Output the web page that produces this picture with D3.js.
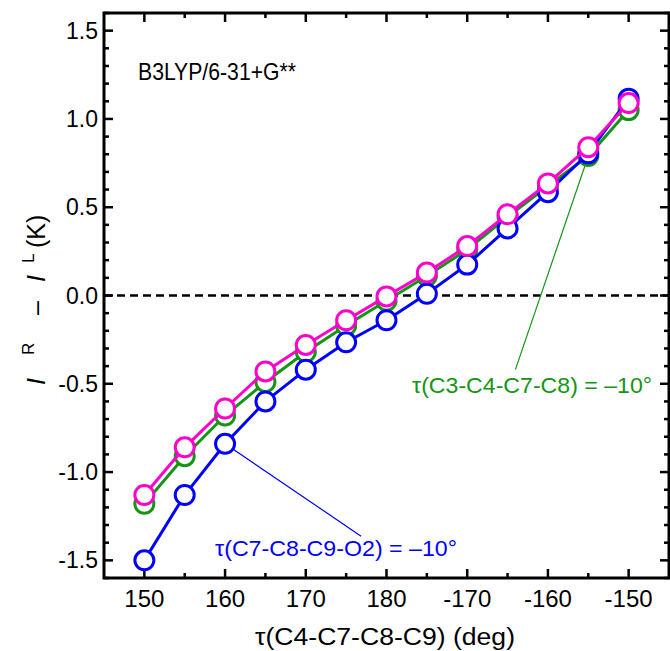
<!DOCTYPE html>
<html>
<head>
<meta charset="utf-8">
<script src="https://cdn.jsdelivr.net/npm/d3@7"></script>
<style>
  html, body { margin: 0; padding: 0; background: #fff; }
  svg { display: block; font-family: "Liberation Sans", Arial, Helvetica, sans-serif; }
</style>
</head>
<body>
<svg id="chart" width="670" height="651"></svg>
<script>
// Dihedral scan: τ(C4-C7-C8-C9) from 150° through 180° to -150° (unwrapped as 150..210)
const torsion = [150, 155, 160, 165, 170, 175, 180, 185, 190, 195, 200, 205, 210];

// I^R − I^L (K) for the three conformer scans
const seriesBlue    = [-1.50, -1.13, -0.84, -0.60, -0.42, -0.265, -0.14, 0.01, 0.175, 0.38, 0.585, 0.805, 1.115];
const seriesGreen   = [-1.18, -0.91, -0.68, -0.49, -0.32, -0.17, -0.03, 0.11, 0.26, 0.445, 0.62, 0.79, 1.05];
const seriesMagenta = [-1.13, -0.86, -0.64, -0.43, -0.28, -0.14, -0.005, 0.13, 0.28, 0.46, 0.635, 0.84, 1.09];

const xTickValues = [150, 160, 170, 180, 190, 200, 210];
const xTickLabels = ["150", "160", "170", "180", "-170", "-160", "-150"];
const yTickValues = [1.5, 1.0, 0.5, 0.0, -0.5, -1.0, -1.5];
const yTickLabels = ["1.5", "1.0", "0.5", "0.0", "-0.5", "-1.0", "-1.5"];

const colors = { blue: "#0000ff", green: "#149614", magenta: "#ff00cc" };

const svg = d3.select("#chart");
const m = { left: 104, right: 669, top: 13, bottom: 578 };

const x = d3.scaleLinear().domain([145, 215]).range([m.left, m.right]);
const y = d3.scaleLinear().domain([-1.6, 1.6]).range([m.bottom, m.top]);

// Axes with inward ticks on all four sides
const xMajor = xTickValues;
const xMinor = d3.range(155, 215, 10);
const yMajor = yTickValues;
const yMinor = d3.range(-1.6, 1.61, 0.1).map(v => +v.toFixed(2)).filter(v => !yMajor.some(t => Math.abs(t - v) < 1e-6));

const axisG = svg.append("g");

function ticksX(vals, len, yPos, dir) {
  axisG.selectAll(null).data(vals).enter().append("line")
    .attr("x1", d => x(d)).attr("x2", d => x(d))
    .attr("y1", yPos).attr("y2", yPos + dir * len)
    .attr("stroke", "#000").attr("stroke-width", 2.5);
}
function ticksY(vals, len, xPos, dir) {
  axisG.selectAll(null).data(vals).enter().append("line")
    .attr("y1", d => y(d)).attr("y2", d => y(d))
    .attr("x1", xPos).attr("x2", xPos + dir * len)
    .attr("stroke", "#000").attr("stroke-width", 2.5);
}
ticksX(xMajor, 9, m.bottom, -1);
ticksX(xMinor, 5, m.bottom, -1);
ticksX(xMajor, 9, m.top, 1);
ticksX(xMinor, 5, m.top, 1);
ticksY(yMajor, 9, m.left, 1);
ticksY(yMinor, 5, m.left, 1);
ticksY(yMajor, 9, m.right, -1);
ticksY(yMinor, 5, m.right, -1);

axisG.append("rect")
  .attr("x", m.left).attr("y", m.top)
  .attr("width", m.right - m.left).attr("height", m.bottom - m.top)
  .attr("fill", "none").attr("stroke", "#000").attr("stroke-width", 3);

// Tick labels
axisG.selectAll(null).data(xTickValues).enter().append("text")
  .attr("x", d => x(d)).attr("y", 607)
  .attr("text-anchor", "middle")
  .attr("font-size", 24)
  .text((d, i) => xTickLabels[i]);

axisG.selectAll(null).data(yTickValues).enter().append("text")
  .attr("x", 98).attr("y", d => y(d) + 8)
  .attr("text-anchor", "end")
  .attr("font-size", 23)
  .text((d, i) => yTickLabels[i]);

// Axis titles
svg.append("text")
  .attr("x", 255).attr("y", 645)
  .attr("font-size", 23)
  .attr("textLength", 260).attr("lengthAdjust", "spacingAndGlyphs")
  .text("τ(C4-C7-C8-C9) (deg)");

// Rotated y title, pieces placed along the baseline (distance upward from the bottom)
const yTitle = svg.append("g").attr("transform", "translate(45, 385) rotate(-90)");
const titleParts = [
  { t: "I", at: 0, size: 25, italic: true, sup: false },
  { t: "R", at: 30, size: 17, italic: false, sup: true },
  { t: "–", at: 70, size: 25, italic: false, sup: false },
  { t: "I", at: 103, size: 25, italic: true, sup: false },
  { t: "L", at: 122, size: 17, italic: false, sup: true },
  { t: "(K)", at: 137, size: 25, italic: false, sup: false }
];
yTitle.selectAll("text").data(titleParts).enter().append("text")
  .attr("x", d => d.at).attr("y", d => d.sup ? -11 : 0)
  .attr("font-size", d => d.size)
  .attr("font-style", d => d.italic ? "italic" : "normal")
  .text(d => d.t);

// Zero reference line
svg.append("line")
  .attr("x1", m.left).attr("x2", m.right)
  .attr("y1", y(0)).attr("y2", y(0))
  .attr("stroke", "#000").attr("stroke-width", 2.5)
  .attr("stroke-dasharray", "8,5");

// Leader lines from annotations to their curves
svg.append("line")
  .attr("x1", x(torsion[11])).attr("y1", y(seriesGreen[11]))
  .attr("x2", x(195.97)).attr("y2", y(-0.42))
  .attr("stroke", colors.green).attr("stroke-width", 1.2);
svg.append("line")
  .attr("x1", x(torsion[2])).attr("y1", y(seriesBlue[2]))
  .attr("x2", x(176.85)).attr("y2", y(-1.363))
  .attr("stroke", colors.blue).attr("stroke-width", 1.2);

// Series: line + open circle markers
const line = d3.line().x((d, i) => x(torsion[i])).y(d => y(d));
[[seriesGreen, colors.green], [seriesBlue, colors.blue], [seriesMagenta, colors.magenta]].forEach(([vals, col]) => {
  const g = svg.append("g");
  g.append("path").datum(vals)
    .attr("d", line).attr("fill", "none")
    .attr("stroke", col).attr("stroke-width", 3);
  g.selectAll("circle").data(vals).enter().append("circle")
    .attr("cx", (d, i) => x(torsion[i])).attr("cy", d => y(d))
    .attr("r", 9.5).attr("fill", "#fff")
    .attr("stroke", col).attr("stroke-width", 3);
});

// Annotations
svg.append("text").attr("x", 138).attr("y", 80)
  .attr("font-size", 24)
  .attr("textLength", 158).attr("lengthAdjust", "spacingAndGlyphs")
  .text("B3LYP/6-31+G**");
svg.append("text").attr("x", 412).attr("y", 393)
  .attr("font-size", 22).attr("fill", colors.green)
  .attr("textLength", 240).attr("lengthAdjust", "spacingAndGlyphs")
  .text("τ(C3-C4-C7-C8) = –10°");
svg.append("text").attr("x", 215).attr("y", 556)
  .attr("font-size", 22).attr("fill", colors.blue)
  .attr("textLength", 242).attr("lengthAdjust", "spacingAndGlyphs")
  .text("τ(C7-C8-C9-O2) = –10°");
</script>
</body>
</html>
